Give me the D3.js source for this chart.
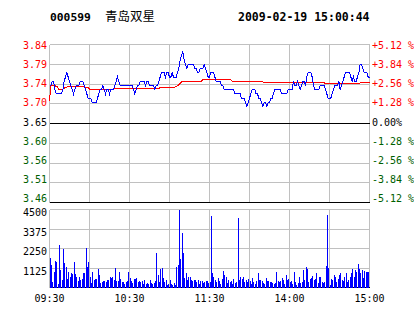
<!DOCTYPE html>
<html><head><meta charset="utf-8">
<script src="https://cdn.jsdelivr.net/npm/d3@7"></script>
<style>body{margin:0;background:#fff}svg{display:block}</style>
</head><body><svg id="c" width="414" height="314"></svg>
<script>
const stockCode = "000599";
const stockName = "青岛双星";
const stamp = "2009-02-19 15:00:44";
const prevClose = 3.65;
const pctLevels = [5.12, 3.84, 2.56, 1.28, 0, -1.28, -2.56, -3.84, -5.12];
const priceLabels = ["3.84","3.79","3.74","3.70","3.65","3.60","3.56","3.51","3.46"];
const pctLabels = ["+5.12 %","+3.84 %","+2.56 %","+1.28 %"," 0.00%","-1.28 %","-2.56 %","-3.84 %","-5.12 %"];
const volTicks = [4500, 3375, 2250, 1125, 0];
const timeLabels = ["09:30","10:30","11:30","14:00","15:00"];
const timeIdx = [0, 60, 120, 180, 240];

const prices = [
3.74,3.74,3.75,3.75,3.73,3.72,3.72,3.72,3.72,3.72,
3.73,3.75,3.76,3.77,3.76,3.75,3.74,3.73,3.72,3.73,
3.74,3.74,3.74,3.75,3.75,3.75,3.74,3.73,3.72,3.71,
3.71,3.71,3.70,3.70,3.70,3.70,3.71,3.72,3.73,3.73,
3.74,3.73,3.72,3.73,3.73,3.72,3.73,3.73,3.73,3.74,
3.75,3.76,3.75,3.74,3.74,3.74,3.74,3.74,3.74,3.74,
3.74,3.74,3.74,3.73,3.72,3.73,3.74,3.74,3.75,3.75,
3.75,3.75,3.74,3.75,3.75,3.74,3.74,3.74,3.74,3.73,
3.74,3.74,3.75,3.76,3.77,3.77,3.77,3.76,3.77,3.77,
3.76,3.76,3.77,3.76,3.76,3.76,3.77,3.78,3.80,3.81,
3.82,3.80,3.79,3.78,3.79,3.79,3.79,3.79,3.79,3.78,
3.78,3.77,3.77,3.78,3.78,3.78,3.79,3.78,3.77,3.76,
3.76,3.77,3.77,3.77,3.76,3.75,3.75,3.75,3.75,3.74,
3.74,3.73,3.73,3.73,3.73,3.73,3.73,3.73,3.73,3.72,
3.72,3.72,3.72,3.72,3.71,3.71,3.71,3.70,3.69,3.70,
3.71,3.72,3.73,3.73,3.73,3.72,3.72,3.71,3.71,3.70,
3.69,3.70,3.70,3.69,3.70,3.70,3.71,3.71,3.72,3.73,
3.73,3.73,3.73,3.73,3.72,3.72,3.72,3.72,3.72,3.73,
3.73,3.73,3.73,3.75,3.74,3.74,3.75,3.74,3.73,3.74,
3.75,3.75,3.74,3.76,3.77,3.77,3.77,3.76,3.74,3.73,
3.73,3.73,3.73,3.74,3.74,3.74,3.74,3.73,3.72,3.71,
3.71,3.71,3.72,3.73,3.74,3.74,3.74,3.75,3.73,3.74,
3.75,3.76,3.77,3.77,3.77,3.77,3.76,3.75,3.76,3.75,
3.75,3.76,3.77,3.79,3.79,3.78,3.77,3.77,3.77,3.76,3.76
];

const avgPrices = [
3.703,3.740,3.740,3.740,3.740,3.737,3.737,3.731,3.731,3.731,
3.731,3.733,3.736,3.736,3.737,3.737,3.737,3.737,3.737,3.737,
3.737,3.737,3.737,3.737,3.737,3.737,3.737,3.735,3.735,3.735,
3.731,3.731,3.731,3.731,3.731,3.731,3.731,3.731,3.731,3.731,
3.731,3.731,3.731,3.731,3.731,3.731,3.731,3.731,3.731,3.732,
3.732,3.732,3.732,3.732,3.732,3.732,3.732,3.732,3.732,3.732,
3.732,3.732,3.732,3.732,3.732,3.732,3.732,3.732,3.732,3.732,
3.732,3.732,3.732,3.732,3.732,3.732,3.732,3.732,3.732,3.732,
3.732,3.732,3.732,3.736,3.736,3.736,3.736,3.736,3.736,3.736,
3.736,3.736,3.736,3.736,3.736,3.737,3.739,3.742,3.745,3.748,
3.750,3.750,3.750,3.750,3.750,3.750,3.750,3.750,3.750,3.750,
3.750,3.750,3.750,3.750,3.750,3.754,3.754,3.754,3.754,3.754,
3.754,3.754,3.754,3.754,3.754,3.754,3.754,3.754,3.754,3.754,
3.754,3.754,3.754,3.754,3.754,3.754,3.754,3.750,3.750,3.750,
3.750,3.750,3.750,3.749,3.749,3.749,3.749,3.749,3.749,3.749,
3.749,3.749,3.749,3.749,3.749,3.749,3.749,3.749,3.749,3.749,
3.749,3.746,3.746,3.746,3.746,3.746,3.746,3.746,3.746,3.746,
3.746,3.746,3.746,3.746,3.746,3.746,3.746,3.746,3.746,3.746,
3.746,3.746,3.746,3.746,3.746,3.746,3.746,3.746,3.746,3.746,
3.746,3.746,3.746,3.746,3.746,3.746,3.746,3.746,3.746,3.746,
3.746,3.746,3.746,3.746,3.746,3.746,3.746,3.745,3.745,3.745,
3.745,3.745,3.745,3.745,3.745,3.745,3.745,3.745,3.745,3.745,
3.745,3.745,3.745,3.745,3.745,3.745,3.745,3.745,3.745,3.745,
3.745,3.745,3.745,3.746,3.746,3.746,3.746,3.746,3.746,3.746,3.746
];

const volumes = [
1680,1300,300,920,1530,1500,200,2450,1010,450,
2210,1430,1200,500,880,630,820,780,1470,800,
600,350,630,440,480,820,820,2290,1200,1470,
600,250,920,450,480,480,1070,700,250,300,
350,350,290,450,450,630,540,630,450,1150,
350,400,920,480,290,290,200,290,350,920,
540,350,250,480,480,540,290,400,300,350,
200,450,200,250,200,450,250,200,250,350,
2000,730,300,1050,1150,540,300,450,150,200,
450,200,150,250,150,1200,1300,4450,1630,3150,
2000,540,860,450,630,600,450,350,450,450,
290,450,200,350,350,250,290,350,350,250,
300,4100,860,630,450,300,540,350,200,480,
950,730,630,250,450,300,350,200,480,250,
300,4000,450,630,480,630,300,450,300,480,
350,200,540,300,200,350,820,450,450,350,
250,200,540,350,350,300,300,250,200,250,
920,350,300,350,540,450,200,730,450,480,
300,350,200,920,290,150,250,630,250,290,
1000,450,1200,1050,300,480,540,660,450,480,
860,250,630,590,290,250,300,1240,4200,1100,
150,480,450,730,630,290,480,730,820,450,
350,630,820,290,450,630,860,1050,630,1000,
920,1380,1050,860,1000,540,950,920,920,920,0
];

const svg = d3.select("#c");
const mono = "'DejaVu Sans Mono', monospace";
const RED = "#ff0000", GREEN = "#006000", GRID = "#c0c0c0";

const x = d3.scaleLinear().domain([0, 240]).range([49.5, 369.5]);
const y = d3.scaleLinear()
  .domain([prevClose * (1 - 0.0512), prevClose * (1 + 0.0512)])
  .range([202.5, 44.5]);
const yv = d3.scaleLinear().domain([0, 4500]).range([287.5, 209.5]);
const yLab = d3.scalePoint().domain(d3.range(pctLevels.length)).range([45.5, 198.5]);

svg.append("text").attr("x", 50).attr("y", 21).attr("font-family", mono)
  .attr("font-weight", "bold").attr("font-size", 11.3).attr("fill", "#000").text(stockCode);
svg.append("text").attr("x", 105).attr("y", 21).attr("font-family", "'Noto Sans CJK SC'")
  .attr("font-size", 12.5).attr("fill", "#000").text(stockName);
svg.append("text").attr("x", 238).attr("y", 21).attr("font-family", mono)
  .attr("font-weight", "bold").attr("font-size", 11.5).attr("fill", "#000").text(stamp);

const colorFor = p => p > 0 ? RED : (p < 0 ? GREEN : "#000");

const vIdx = d3.range(0, 241, 30);
const g = svg.append("g").attr("shape-rendering", "crispEdges");
g.selectAll(".vp").data(vIdx).join("line")
  .attr("x1", d => x(d)).attr("x2", d => x(d))
  .attr("y1", y.range()[1]).attr("y2", y.range()[0])
  .attr("stroke", GRID);
g.selectAll(".vv").data(vIdx).join("line")
  .attr("x1", d => x(d)).attr("x2", d => x(d))
  .attr("y1", yv.range()[1]).attr("y2", yv.range()[0])
  .attr("stroke", GRID);

const levels = pctLevels.map((p, i) => ({ i, p, v: prevClose * (1 + p / 100), lab: priceLabels[i], pl: pctLabels[i] }));
g.selectAll(".hp").data(levels).join("line")
  .attr("x1", x(0)).attr("x2", x(240))
  .attr("y1", d => y(d.v)).attr("y2", d => y(d.v))
  .attr("stroke", (d, i) => (d.p === 0 || i === levels.length - 1) ? "#000" : GRID);

g.selectAll(".hv").data(volTicks).join("line")
  .attr("x1", x(0)).attr("x2", x(240))
  .attr("y1", d => yv(d)).attr("y2", d => yv(d))
  .attr("stroke", d => d === 0 ? "#000" : GRID);

svg.selectAll(".pl").data(levels).join("text")
  .attr("x", 47).attr("y", d => yLab(d.i)).attr("dy", "0.35em")
  .attr("text-anchor", "end").attr("font-family", mono).attr("font-size", 10)
  .attr("fill", d => colorFor(d.p)).text(d => d.lab);
svg.selectAll(".pr").data(levels).join("text")
  .attr("x", 372).attr("y", d => yLab(d.i)).attr("dy", "0.35em")
  .attr("font-family", mono).attr("font-size", 10)
  .attr("fill", d => colorFor(d.p)).text(d => d.pl);

svg.selectAll(".vl").data(volTicks.filter(d => d > 0)).join("text")
  .attr("x", 47).attr("y", d => yv(d) + 3).attr("dy", "0.35em")
  .attr("text-anchor", "end").attr("font-family", mono).attr("font-size", 10)
  .attr("fill", "#000").text(d => d);

svg.selectAll(".tl").data(timeLabels).join("text")
  .attr("x", (d, i) => x(timeIdx[i])).attr("y", 302)
  .attr("text-anchor", "middle").attr("font-family", mono).attr("font-size", 10)
  .attr("fill", "#000").text(d => d);

svg.append("g").attr("shape-rendering", "crispEdges")
  .selectAll("line").data(volumes).join("line")
  .attr("x1", (d, i) => Math.round(x(i)) + 0.5).attr("x2", (d, i) => Math.round(x(i)) + 0.5)
  .attr("y1", yv(0)).attr("y2", d => yv(d))
  .attr("stroke", "#0000ff").attr("stroke-width", 1);

const line = d3.line().x((d, i) => x(i)).y(d => y(d));
svg.append("path").datum(avgPrices).attr("d", line).attr("shape-rendering", "crispEdges")
  .attr("fill", "none").attr("stroke", RED).attr("stroke-width", 1);
svg.append("path").datum(prices).attr("d", line).attr("shape-rendering", "crispEdges")
  .attr("fill", "none").attr("stroke", "#0000ff").attr("stroke-width", 1);
</script></body></html>
